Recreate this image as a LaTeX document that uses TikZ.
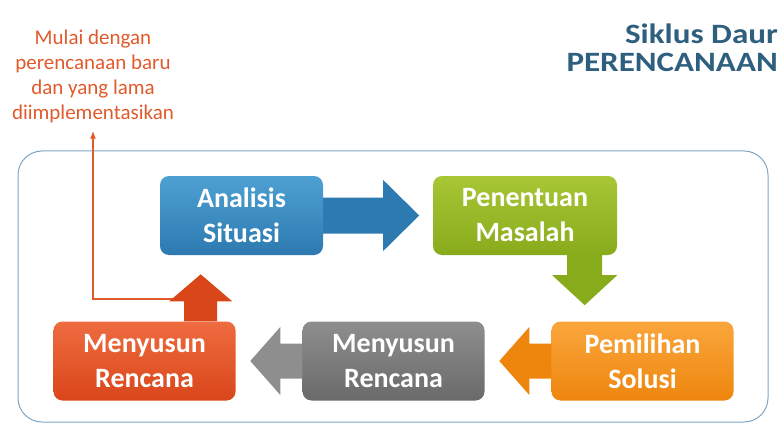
\documentclass[tikz,border=0pt]{standalone}
\usepackage{fontspec}
\setmainfont{Carlito}
\usetikzlibrary{positioning,calc,arrows.meta}

\definecolor{situasiTop}{HTML}{4EA0D3}
\definecolor{situasiBot}{HTML}{2C7AB0}
\definecolor{masalahTop}{HTML}{A8C636}
\definecolor{masalahBot}{HTML}{88AB1C}
\definecolor{solusiTop}{HTML}{FAA63C}
\definecolor{solusiBot}{HTML}{EE860E}
\definecolor{abuTop}{HTML}{8E8E8E}
\definecolor{abuBot}{HTML}{6A6A6A}
\definecolor{rencanaTop}{HTML}{EE6C40}
\definecolor{rencanaBot}{HTML}{D9461A}
\definecolor{loopLine}{HTML}{E05A2B}
\definecolor{judul}{HTML}{2E5F7E}
\definecolor{bingkai}{HTML}{7FA6C6}

\begin{document}
\begin{tikzpicture}[x=1pt,y=-1pt]
	
		\tikzset{stepbox/.style={rounded corners=9pt, minimum width=182pt, minimum height=79pt, inner sep=0pt, text=white, align=center, font=\fontsize{28}{35}\selectfont\bfseries}}
		\tikzset{frameline/.style={draw=bingkai, line width=1pt, rounded corners=24pt}}
		\tikzset{feedback/.style={draw=loopLine, line width=2pt, -{Latex[length=8pt,width=6pt]}, shorten >=8pt}}
		
		\newcommand\blockArrow[7] % {colour}{start}{angle}{body}{head}{body half}{head half}
		{
			\begin{scope}[shift={(#2)}, rotate=#3]
				\fill[#1] (0,-#6) -- (#4,-#6) -- (#4,-#7) -- (#4+#5,0)
				-- (#4,#7) -- (#4,#6) -- (0,#6) -- cycle;
			\end{scope}
		}
		
		\useasboundingbox (0,0) rectangle (779,425);
		
		% frame
		\draw[frameline] (18,151) rectangle (768,422);
		
		% texts
		\node[anchor=east, align=right, text=judul, inner sep=0pt, xscale=1.18, transform shape,
		font=\fontsize{28}{28}\selectfont\bfseries] at (778,47.5) (judulText) {Siklus Daur\\PERENCANAAN};
		\node[align=center, text=loopLine, inner sep=0pt,
		font=\fontsize{21}{25}\selectfont] at (93,76) (mulai) {Mulai dengan\\perencanaan baru\\dan yang lama\\diimplementasikan};
		
		% steps
		\node[stepbox, minimum width=163pt, top color=situasiTop, bottom color=situasiBot] at (241.5,215.5) (analisis) {Analisis\\Situasi};
		\node[stepbox, minimum width=184pt, top color=masalahTop, bottom color=masalahBot] at (525,215.5) (penentuan) {Penentuan\\Masalah};
		\node[stepbox, top color=solusiTop, bottom color=solusiBot] at (642.5,361) (pemilihan) {Pemilihan\\Solusi};
		\node[stepbox, top color=abuTop, bottom color=abuBot] at (393.5,361) (menyusunAbu) {Menyusun\\Rencana};
		\node[stepbox, top color=rencanaTop, bottom color=rencanaBot] at (144.5,361) (menyusunMerah) {Menyusun\\Rencana};
		
		% loop back
		\coordinate (loopStart) at ($(menyusunMerah.north east)+(-35,-22)$);
		\draw[feedback] (loopStart) -| (mulai.south);
		
		% block arrows
		\blockArrow{situasiBot}{analisis.east}{0}{60}{36}{18}{35.5}
		\blockArrow{masalahBot}{$(penentuan.south east)+(-32.5,0)$}{-90}{20}{30}{17.5}{32.5}
		\blockArrow{solusiBot}{pemilihan.west}{180}{22}{30}{17.5}{34}
		\blockArrow{abuTop}{menyusunAbu.west}{180}{22}{30}{17.5}{34}
		\blockArrow{rencanaBot}{$(menyusunMerah.north east)+(-35,0)$}{90}{20}{27}{16.5}{31.5}
		
	\end{tikzpicture}
\end{document}
